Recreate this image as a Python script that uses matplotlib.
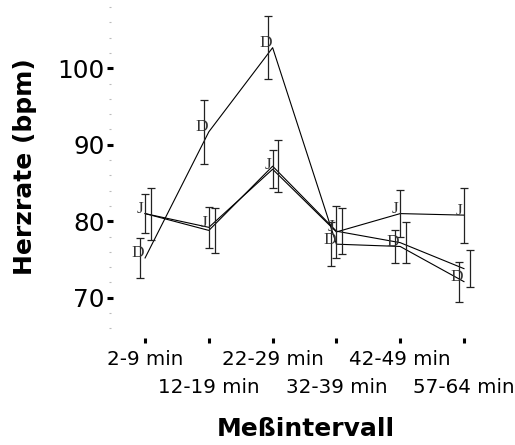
import matplotlib
matplotlib.use("Agg")
import matplotlib.pyplot as plt
import numpy as np

intervals = ["2-9 min", "12-19 min", "22-29 min", "32-39 min", "42-49 min", "57-64 min"]

# group D
d_mean = [75.2, 91.7, 102.7, 77.0, 76.7, 72.1]
d_err = [2.6, 4.2, 4.1, 2.9, 2.2, 2.6]
# group J
j_mean = [81.0, 79.2, 86.8, 78.6, 81.0, 80.8]
j_err = [2.6, 2.7, 2.5, 3.4, 3.1, 3.6]
# third (unlabelled) group
c_mean = [81.0, 78.8, 87.2, 78.7, 77.2, 73.8]
c_err = [3.4, 2.9, 3.4, 3.0, 2.7, 2.4]

x = np.arange(1, len(intervals) + 1)

fig = plt.figure(figsize=(5.15, 4.45), dpi=100)
ax = fig.add_axes([110/515, 1-338/445, 390/515, 333/445])

for m in (d_mean, j_mean, c_mean):
    ax.plot(x, m, color="black", lw=0.8)

for off, m, e in ((-0.08, d_mean, d_err), (0.0, j_mean, j_err), (0.09, c_mean, c_err)):
    ax.errorbar(x + off, m, yerr=e, fmt="none", ecolor="#222222",
                elinewidth=0.9, capsize=3, capthick=0.9)

for xi, yi in zip(x, d_mean):
    ax.text(xi - 0.11, yi + 0.6, "D", family="Liberation Serif", fontsize=12.5,
            color="#333333", ha="center", va="center")
for xi, yi in zip(x, j_mean):
    ax.text(xi - 0.08, yi + 0.6, "J", family="Liberation Serif", fontsize=12.5,
            color="#333333", ha="center", va="center")

ax.set_xlim(0.45, 6.565)
ax.set_ylim(64.73, 108.28)

for s in ax.spines.values():
    s.set_visible(False)

ax.set_yticks([70, 80, 90, 100])
ax.set_yticks(np.arange(66, 109, 2), minor=True)
ax.tick_params(axis="y", which="major", direction="inout", length=4.3, width=2.2,
               labelsize=17.8, pad=1.5, color="black")
ax.tick_params(axis="y", which="minor", direction="inout", length=1.5, width=0.8,
               color="#bbbbbb")

ax.set_xticks(x[::2])
ax.set_xticklabels(intervals[::2])
ax.set_xticks(x[1::2], minor=True)
ax.set_xticklabels(intervals[1::2], minor=True)
ax.tick_params(axis="x", which="both", direction="out", length=3.6, width=2.2,
               labelsize=14.3, color="black")
ax.tick_params(axis="x", which="major", pad=5)
ax.tick_params(axis="x", which="minor", pad=25.5)

fig.text(25/515, 1-167/445, "Herzrate (bpm)", rotation=90, fontsize=18,
         fontweight="bold", ha="center", va="center")
fig.text(306/515, 1-429/445, "Meßintervall", fontsize=18,
         fontweight="bold", ha="center", va="center")

fig.savefig("out.png", dpi=100)
